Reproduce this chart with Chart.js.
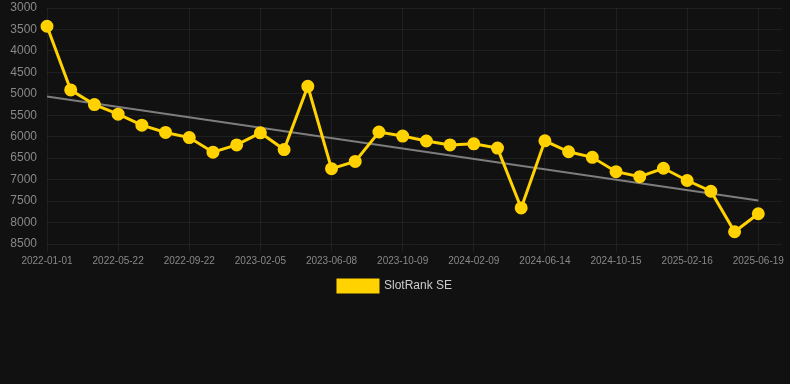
<!DOCTYPE html>
<html>
<head>
<meta charset="utf-8">
<script src="https://cdn.jsdelivr.net/npm/chart.js@4"></script>
<style>
  html, body { margin: 0; padding: 0; background: #111111; }
  #wrap { width: 790px; height: 302px; position: relative; }
</style>
</head>
<body>
<div id="wrap"><canvas id="rankChart"></canvas></div>
<script>
// dates of each rank reading (last one is an empty slot at the end of the axis)
const dates = [
  '2022-01-01', '2022-02-17', '2022-04-05', '2022-05-22', '2022-07-02', '2022-08-12',
  '2022-09-22', '2022-11-07', '2022-12-22', '2023-02-05', '2023-03-18', '2023-04-28',
  '2023-06-08', '2023-07-19', '2023-08-29', '2023-10-09', '2023-11-19', '2023-12-30',
  '2024-02-09', '2024-03-21', '2024-05-03', '2024-06-14', '2024-07-25', '2024-09-04',
  '2024-10-15', '2024-11-25', '2025-01-06', '2025-02-16', '2025-03-29', '2025-05-09',
  '2025-06-19', '2025-07-30'
];

const rankSE = [
  3425, 4910, 5250, 5475, 5730, 5900, 6020, 6360, 6190, 5910,
  6300, 4825, 6745, 6575, 5890, 5985, 6100, 6190, 6165, 6265,
  7660, 6095, 6350, 6480, 6815, 6930, 6735, 7020, 7270, 8215,
  7795, null
];

// trend line, only the two ends are known
const trendLine = [5065, ...Array(29).fill(null), 7485, null];

const yTicks = [3000, 3500, 4000, 4500, 5000, 5500, 6000, 6500, 7000, 7500, 8000, 8500];

const gridColor = 'rgba(255, 255, 255, 0.06)';

const ctx = document.getElementById('rankChart').getContext('2d');

const rankChart = new Chart(ctx, {
  type: 'line',
  data: {
    labels: dates,
    datasets: [
      {
        label: 'SlotRank SE',
        data: rankSE,
        borderColor: '#ffd200',
        backgroundColor: '#ffd200',
        borderWidth: 3,
        pointRadius: 5,
        pointHoverRadius: 5,
        pointBackgroundColor: '#ffd200',
        pointBorderColor: '#ffd200',
        tension: 0,
        order: 1,
      },
      {
        label: 'trend',
        data: trendLine,
        borderColor: 'rgba(125, 125, 125, 1)',
        borderWidth: 2,
        pointRadius: 0,
        spanGaps: true,
        fill: false,
        order: 2,
      },
    ],
  },
  options: {
    responsive: true,
    maintainAspectRatio: false,
    animation: false,
    plugins: {
      legend: {
        display: true,
        position: 'bottom',
        labels: {
          color: '#cccccc',
          font: { family: 'Arial', size: 12 },
          boxWidth: 40,
          boxHeight: 12,
          filter: item => item.text !== 'trend',
        },
      },
      tooltip: { enabled: false },
    },
    scales: {
      y: {
        reverse: true,
        min: yTicks[0],
        max: yTicks[yTicks.length - 1],
        afterBuildTicks: axis => { axis.ticks = yTicks.map(v => ({ value: v })); },
        afterFit: axis => {
          axis.width = 47;
          axis.paddingTop = 6;
          axis.paddingBottom = 0;
        },
        ticks: {
          color: '#888888',
          font: { family: 'Arial', size: 12 },
          padding: 10,
          callback: value => String(value),
        },
        grid: { color: gridColor, drawTicks: false },
        border: { display: false },
      },
      x: {
        afterFit: axis => {
          axis.paddingRight = 4;
          axis.paddingLeft = 0;
        },
        ticks: {
          color: '#888888',
          font: { family: 'Arial', size: 10 },
          autoSkip: false,
          maxRotation: 0,
          callback: function (value, index) {
            return (index % 3 === 0 && index < 31) ? dates[index] : '';
          },
        },
        grid: {
          color: c => (c.index % 3 === 0 && c.index < 31) ? gridColor : 'transparent',
        },
        border: { display: false },
      },
    },
  },
});
</script>
</body>
</html>
